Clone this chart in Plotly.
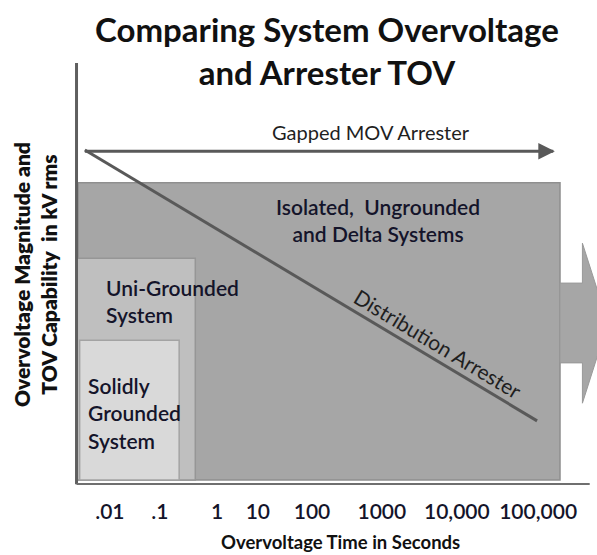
import plotly.graph_objects as go

# ---------------- data ----------------
tick_labels = [".01", ".1", "1", "10", "100", "1000", "10,000", "100,000"]
tick_positions = [6.5, 16.1, 27.1, 34.9, 45.3, 58.7, 73.1, 88.7]

system_names = ["Isolated, Ungrounded and Delta Systems", "Uni-Grounded System", "Solidly Grounded System"]
system_time_start = [0.4, 0.2, 0.7]
system_time_end = [92.9, 22.9, 19.8]
system_mag_low = [0.7, 0.7, 0.7]
system_mag_high = [71.5, 53.5, 34.0]
system_fill = ["#a6a6a6", "#bfbfbf", "#d9d9d9"]
system_edge = ["#8f8f8f", "#969696", "#a3a3a3"]

gapped_time = [1.7, 91.6]
gapped_mag = [79.0, 79.0]

dist_time = [1.7, 88.5]
dist_mag = [79.3, 14.8]

# block arrow continuing beyond the chart (times beyond 100,000 s)
block_time = [92.9, 97.2, 97.2, 102.1, 97.2, 97.2, 92.9]
block_mag = [47.6, 47.6, 57.1, 38.1, 19.0, 28.6, 28.6]

fig = go.Figure()

shapes = []
for i in range(len(system_names)):
    shapes.append(dict(type="rect", xref="x", yref="y",
                       x0=system_time_start[i], x1=system_time_end[i],
                       y0=system_mag_low[i], y1=system_mag_high[i],
                       fillcolor=system_fill[i], line=dict(color=system_edge[i], width=1.5),
                       layer="below"))

path = "M " + " L ".join(f"{x},{y}" for x, y in zip(block_time, block_mag)) + " Z"
shapes.append(dict(type="path", xref="x", yref="y", path=path,
                   fillcolor="#a6a6a6", line=dict(color="#999999", width=1), layer="below"))

# axes lines
shapes.append(dict(type="line", xref="x", yref="y", x0=0.1, x1=0.1, y0=-0.3, y1=100,
                   line=dict(color="#5f5f5f", width=3)))
shapes.append(dict(type="line", xref="x", yref="y", x0=0.1, x1=98.6, y0=-0.3, y1=-0.3,
                   line=dict(color="#6f6f6f", width=2.5)))

fig.add_trace(go.Scatter(x=dist_time, y=dist_mag, mode="lines",
                         line=dict(color="#595959", width=3), hoverinfo="skip", showlegend=False))
fig.add_trace(go.Scatter(x=gapped_time, y=gapped_mag, mode="lines",
                         line=dict(color="#595959", width=3), hoverinfo="skip", showlegend=False))

W, H = 597, 555
ml, mr, mt, mb = 74, 0, 63, 70
pw, ph = W - ml - mr, H - mt - mb


def px(xp):
    return (xp - ml) / pw


def py(yp):
    return (H - mb - yp) / ph


txt_color = "#14142a"
annotations = [
    dict(x=gapped_time[1] + 0.3, y=gapped_mag[1], ax=gapped_time[1] - 3, ay=gapped_mag[1],
         xref="x", yref="y", axref="x", ayref="y", text="", showarrow=True,
         arrowhead=2, arrowsize=1.1, arrowwidth=3, arrowcolor="#595959"),
    dict(x=56.6, y=83.5, xref="x", yref="y", text="Gapped MOV Arrester", showarrow=False,
         font=dict(family="Lato", size=20, color="#1f1f1f")),
    dict(x=58.0, y=62.6, xref="x", yref="y", text="Isolated,  Ungrounded<br>and Delta Systems",
         showarrow=False, font=dict(family="Lato", size=21, color=txt_color, weight=600)),
    dict(x=5.4, y=43.4, xref="x", yref="y", text="Uni-Grounded<br>System", xanchor="left",
         align="left", showarrow=False, font=dict(family="Lato", size=21, color=txt_color, weight=600)),
    dict(x=2.0, y=16.7, xref="x", yref="y", text="Solidly<br>Grounded<br>System", xanchor="left",
         align="left", showarrow=False, font=dict(family="Lato", size=21, color=txt_color, weight=600)),
    dict(x=69.5, y=33.3, xref="x", yref="y", text="Distribution Arrester", textangle=31,
         showarrow=False, font=dict(family="Lato", size=21, color="#1f1f1f")),
    dict(x=px(327), y=py(50), xref="paper", yref="paper", xanchor="center",
         text="Comparing System Overvoltage<br>and Arrester TOV", showarrow=False,
         font=dict(family="Lato", size=33, color="#111111", weight=700), yanchor="middle"),
    dict(x=px(35), y=py(275), xref="paper", yref="paper", xanchor="center", yanchor="middle",
         text="Overvoltage Magnitude and<br>TOV Capability  in kV rms",
         textangle=-90, showarrow=False,
         font=dict(family="Lato", size=21, color="#111111", weight=800)),
    dict(x=px(340), y=py(542), xref="paper", yref="paper", xanchor="center", yanchor="middle",
         text="Overvoltage Time in Seconds", showarrow=False,
         font=dict(family="Lato", size=18.5, color="#111111", weight=700)),
]

fig.update_layout(
    width=W, height=H,
    margin=dict(l=ml, r=mr, t=mt, b=mb, autoexpand=False),
    paper_bgcolor="white", plot_bgcolor="white",
    shapes=shapes, annotations=annotations,
    xaxis=dict(range=[-0.384, 100], showgrid=False, zeroline=False, showline=False,
               automargin=False,
               tickvals=tick_positions, ticktext=tick_labels, ticks="outside",
               ticklen=8, tickcolor="rgba(0,0,0,0)",
               tickfont=dict(family="Lato", size=21, color="#14142a", weight=600)),
    yaxis=dict(range=[-0.476, 100], showgrid=False, zeroline=False, showline=False,
               automargin=False, showticklabels=False, ticks=""),
    showlegend=False,
)

fig.write_html("out.html", config={"displayModeBar": False},
               post_script="document.body.style.margin='0px';document.body.style.padding='0px';")
